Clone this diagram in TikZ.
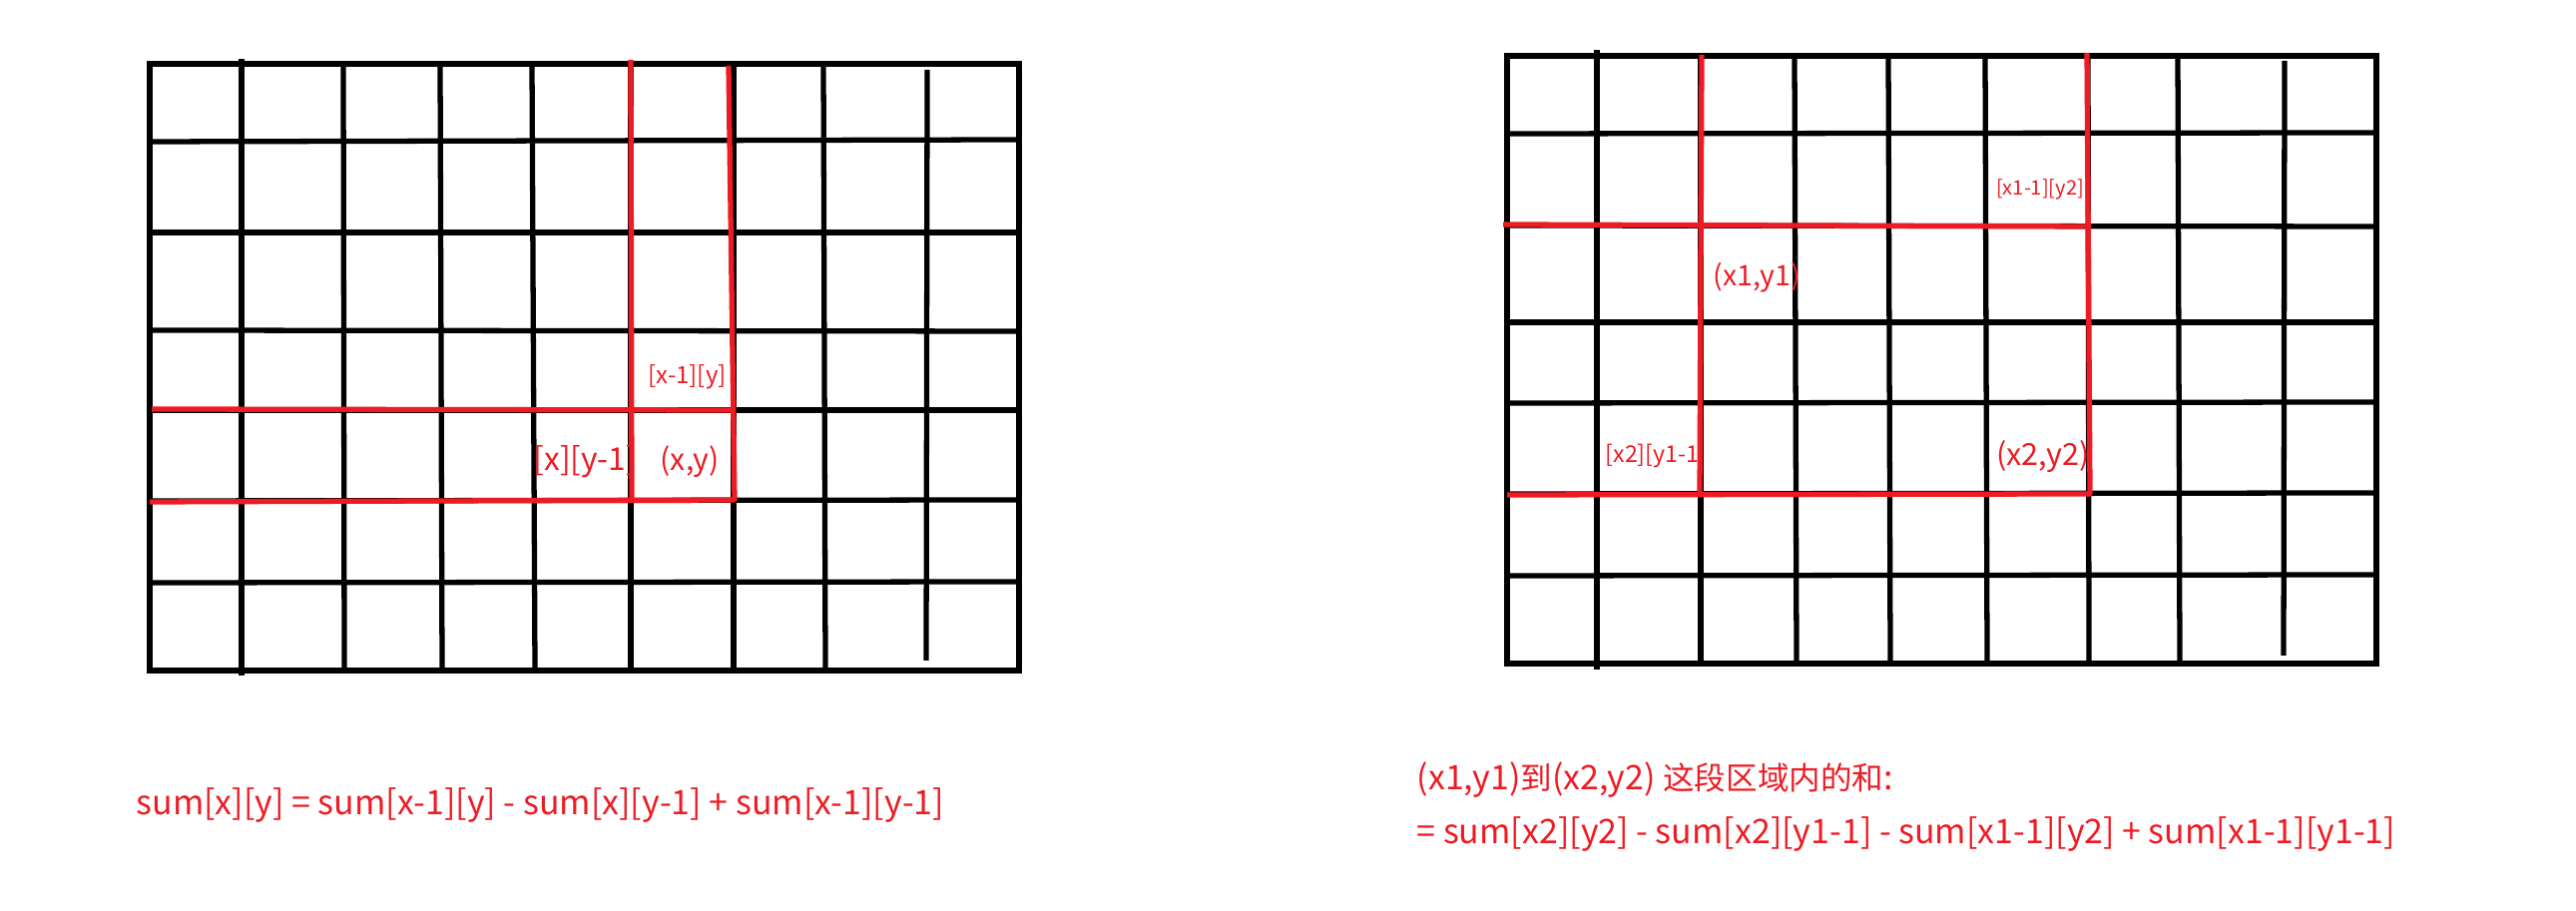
\documentclass[tikz,border=0pt]{standalone}
\usepackage{fontspec}
\setmainfont{Noto Sans CJK SC}
\newfontfamily\zhfont{Noto Sans CJK SC}[Scale=0.93]
\definecolor{rossopaint}{HTML}{ED1C24}
\begin{document}
\begin{tikzpicture}[line width=1.5pt,
    rosso/.style={draw=rossopaint,line width=1.5pt},
    lbl/.style={text=rossopaint,inner sep=0pt,anchor=west}]
        \useasboundingbox[fill=white](0,0)rectangle(25.81,9.13);

        % griglia sinistra
        \draw(1.50,2.41)rectangle(10.21,8.49);
        \draw(2.42,8.54)--(2.42,2.36);
        \draw(3.44,8.49)--(3.45,2.41);
        \draw(4.41,8.49)--(4.43,2.41);
        \draw(5.33,8.49)--(5.36,2.41);
        \draw(6.32,8.49)--(6.32,2.41);
        \draw(7.35,8.49)--(7.35,2.41);
        \draw(8.25,8.49)--(8.27,2.41);
        \draw(9.29,8.43)--(9.28,2.51);
        \draw(1.50,7.71)--(10.21,7.73);
        \draw(1.50,6.80)--(10.21,6.80);
        \draw(1.50,5.82)--(10.21,5.81);
        \draw(1.50,5.02)--(10.21,5.02);
        \draw(1.50,4.11)--(10.23,4.12);
        \draw(1.50,3.29)--(10.23,3.30);

        \node[lbl,font=\fontsize{6.8pt}{8pt}\selectfont](xm1y)at(6.47,5.35){[x-1][y]};
        \node[lbl,font=\fontsize{9pt}{11pt}\selectfont](xym1)at(5.32,4.50){[x][y-1]};
        \node[lbl,font=\fontsize{8.6pt}{10pt}\selectfont](xy)at(6.59,4.50){(x,y)};

        \draw[rosso](6.32,8.53)--(6.33,4.11);
        \draw[rosso](7.30,8.47)--(7.36,4.11);
        \draw[rosso](1.52,5.03)--(7.37,5.02);
        \draw[rosso](1.50,4.10)--(7.37,4.12);

        % griglia destra
        \draw(15.10,2.48)rectangle(23.81,8.57);
        \draw(16.00,8.63)--(16.00,2.42);
        \draw(17.04,8.57)--(17.04,2.48);
        \draw(17.98,8.57)--(18.00,2.48);
        \draw(18.92,8.57)--(18.94,2.48);
        \draw(19.89,8.57)--(19.91,2.48);
        \draw(20.92,8.57)--(20.93,2.48);
        \draw(21.82,8.57)--(21.84,2.48);
        \draw(22.89,8.52)--(22.88,2.56);
        \draw(15.10,7.79)--(23.81,7.80);
        \draw(15.10,6.87)--(23.81,6.86);
        \draw(15.10,5.90)--(23.81,5.90);
        \draw(15.10,5.09)--(23.81,5.10);
        \draw(15.10,4.18)--(23.83,4.19);
        \draw(15.10,3.36)--(23.83,3.37);

        \node[lbl,font=\fontsize{5.7pt}{7pt}\selectfont](x1m1y2)at(19.975,7.23){[x1-1][y2]};
        \node[lbl,font=\fontsize{8.1pt}{10pt}\selectfont](x1y1)at(17.14,6.35){(x1,y1)};
        \node[lbl,font=\fontsize{6.6pt}{8pt}\selectfont](x2y1m1)at(16.06,4.56){[x2][y1-1};
        \node[lbl,font=\fontsize{8.7pt}{10pt}\selectfont](x2y2)at(19.975,4.55){(x2,y2)};

        \draw[rosso](17.05,8.58)--(17.03,4.18);
        \draw[rosso](20.91,8.60)--(20.94,4.18);
        \draw[rosso](15.06,6.88)--(20.93,6.86);
        \draw[rosso](15.10,4.17)--(20.96,4.18);

        % formule
        \node[lbl,font=\fontsize{9.65pt}{12pt}\selectfont](formula1)at(1.34,1.06)
            {sum[x][y] = sum[x-1][y] - sum[x][y-1] + sum[x-1][y-1]};
        \node[lbl,font=\fontsize{9.65pt}{12pt}\selectfont](titolo2)at(14.17,1.31)
            {(x1,y1){\zhfont 到}(x2,y2) {\zhfont 这段区域内的和}:};
        \node[lbl,font=\fontsize{9.65pt}{12pt}\selectfont](formula2)at(14.17,0.77)
            {= sum[x2][y2] - sum[x2][y1-1] - sum[x1-1][y2] + sum[x1-1][y1-1]};
    \end{tikzpicture}
\end{document}
